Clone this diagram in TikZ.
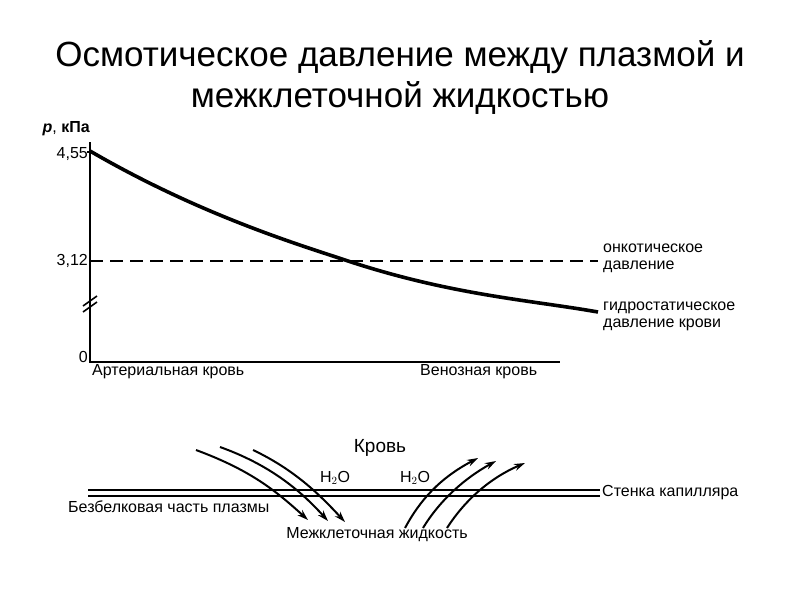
\documentclass[tikz,border=0pt]{standalone}
\usepackage{fontspec}
\setmainfont{Liberation Sans}
\usetikzlibrary{arrows.meta}
\begin{document}
\begin{tikzpicture}[x=1pt,y=-1pt,
  lbl/.style={font=\fontsize{16}{17}\selectfont,inner sep=0pt},
  ttl/.style={font=\fontsize{35}{41}\selectfont,align=center},
  flow/.style={line width=2pt,-{Stealth[length=11pt,width=7pt]}}]
\useasboundingbox[fill=white] (0,0) rectangle (800,600);
\node[ttl] (title) at (400,77) {Осмотическое давление между плазмой и\\межклеточной жидкостью};
% axes
\coordinate (ytop) at (90,142);
\coordinate (orig) at (90,362);
\coordinate (xend) at (560,362);
\draw[line width=2pt] (ytop) -- (orig) -- (xend);
\draw[line width=1.6pt] (83,306) -- (97,296) (83,312) -- (97,302);
\node[lbl,anchor=east] (p) at (90,129) {\textbf{\textit{р}}, \textbf{кПа}};
\node[lbl,anchor=east] (t1) at (88,154) {4,55};
\node[lbl,anchor=east] (t2) at (88,261) {3,12};
\node[lbl,anchor=east] (t0) at (88,357) {0};
\draw[line width=1.5pt] (87,152) -- (94,152);
\draw[line width=1.6pt,dash pattern=on 13pt off 7pt] (90,261) -- (598,261);
\draw[line width=3.6pt] (90,151) .. controls (200,215) and (300,245) .. (345,260) .. controls (450,295) and (530,300) .. (598,312);
\node[lbl,anchor=north west,align=left] (onk) at (603,244) {онкотическое\\давление};
\node[lbl,anchor=north west,align=left] (gid) at (603,302) {гидростатическое\\давление крови};
\node[lbl,anchor=north west] (art) at (92,364) {Артериальная кровь};
\node[lbl,anchor=north west] (ven) at (420,364) {Венозная кровь};
% capillary
\coordinate (w1) at (88,490);
\coordinate (w2) at (600,490);
\coordinate (w3) at (88,496);
\coordinate (w4) at (600,496);
\draw[line width=1.6pt] (w1) -- (w2) (w3) -- (w4);
\node[lbl,anchor=west] (sten) at (602,493) {Стенка капилляра};
\node[lbl,anchor=north west] (bez) at (68,501) {Безбелковая часть плазмы};
\node[lbl] (mezh) at (377,535) {Межклеточная жидкость};
\node[font=\fontsize{19}{21}\selectfont] (krov) at (380,448) {Кровь};
\node[lbl] (h1) at (335,478) {H$_2$O};
\node[lbl] (h2) at (415,478) {H$_2$O};
\draw[flow] (196,450) .. controls (250,470) and (275,490) .. (308,520);
\draw[flow] (220,447) .. controls (270,465) and (300,490) .. (328,521);
\draw[flow] (253,450) .. controls (295,470) and (320,495) .. (345,522);
\draw[flow] (405,528) .. controls (420,500) and (440,478) .. (478,458);
\draw[flow] (423,528) .. controls (440,500) and (465,478) .. (496,461);
\draw[flow] (447,528) .. controls (465,500) and (490,478) .. (525,463);
\end{tikzpicture}
\end{document}
